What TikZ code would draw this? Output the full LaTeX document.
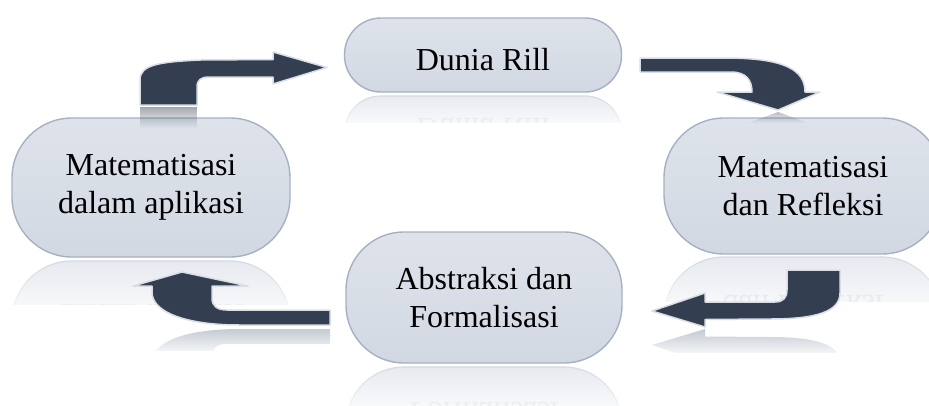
\documentclass[tikz,border=0pt]{standalone}
\usepackage{fontspec}
\setmainfont{Liberation Serif}
\usetikzlibrary{fadings}
\definecolor{arrowcol}{HTML}{333E50}
\definecolor{arrowedge}{HTML}{D9DEE6}
\definecolor{nodefillA}{HTML}{DEE3EB}
\definecolor{nodefillB}{HTML}{D2D8E2}
\definecolor{nodeedge}{HTML}{A5B1C3}
\definecolor{reffill}{HTML}{E6E9EF}
\definecolor{refedge}{HTML}{D3D8E0}
\definecolor{reftext}{HTML}{C4C9D1}
\definecolor{arrref}{HTML}{C2C8D1}
\tikzfading[name=fadeup, top color=transparent!100, bottom color=transparent!0]
\tikzfading[name=fadedown, top color=transparent!0, bottom color=transparent!100]
\tikzset{
  pill/.style={draw=nodeedge, line width=1.4pt, top color=nodefillA, bottom color=nodefillB,
    align=center, font=\fontsize{32}{38.4}\selectfont, inner sep=0pt},
  refl/.style={draw=refedge, line width=1.2pt, fill=reffill, text=reftext,
    align=center, font=\fontsize{32}{38.4}\selectfont, inner sep=0pt},
  lowtext/.style={text height=38pt, text depth=8pt},
  bigarrow/.style={fill=arrowcol, draw=arrowedge, line width=1.5pt, line join=round},
  arrowrefl/.style={fill=arrref, draw=none},
  fadeover/.style={fill=white, draw=none, path fading=fadeup},
}
\newcommand\arrA{(140,105) -- (140,80) .. controls (140,65) and (158,62) .. (200,60) -- (273,59.5) -- (273,52) -- (327,67.5) -- (273,84) -- (273,77) -- (209,77) .. controls (201,77) and (197,80) .. (197,87) -- (197,105) -- cycle}
\newcommand\arrB{(640,58) -- (725,58) .. controls (785,58) and (805,70) .. (805,92) -- (820,92) -- (778,110) -- (717,92) -- (752,92) .. controls (752,80) and (746,72) .. (731,72) -- (640,72) -- cycle}
\newcommand\arrC{(787,270) -- (840,270) -- (840,293) .. controls (840,312) and (815,319) .. (770,319) -- (705,319.5) -- (705,327) -- (652,311) -- (705,293) -- (705,302) -- (775,302) .. controls (783,302) and (787,298) .. (787,290) -- cycle}
\newcommand\arrD{(330,310) -- (330,325) -- (240,325) .. controls (185,325) and (152,312) .. (152,292) -- (152,286) -- (133,286) -- (182,272) -- (248,286) -- (212,286) -- (212,298) .. controls (212,306) and (217,310) .. (227,310) -- cycle}
\begin{document}
\begin{tikzpicture}[x=1pt, y=-1pt]
\useasboundingbox (0,0) rectangle (929,405);
\clip (0,0) rectangle (929,405);

% ---------- reflections of the nodes ----------
\begin{scope}
  \clip (335,93) rectangle (632,122);
  \begin{scope}[shift={(0,188)}, yscale=-1, transform shape]
    \node[refl, lowtext, minimum width=277pt, minimum height=74pt, rounded corners=36.5pt] (rillR) at (483,55) {Dunia Rill};
  \end{scope}
\end{scope}
\fill[fadeover] (335,93) rectangle (632,132);

\begin{scope}
  \clip (5,258) rectangle (300,304);
  \begin{scope}[shift={(0,518)}, yscale=-1, transform shape]
    \node[refl, minimum width=278pt, minimum height=139pt, rounded corners=60pt] (aplR) at (151,187.5) {Matematisasi\\dalam aplikasi};
  \end{scope}
\end{scope}
\fill[fadeover] (5,258) rectangle (300,325);

\begin{scope}
  \clip (655,254) rectangle (929,301);
  \begin{scope}[shift={(0,510)}, yscale=-1, transform shape]
    \node[refl, minimum width=278pt, minimum height=136pt, rounded corners=60pt] (refR) at (803,185) {Matematisasi\\dan Refleksi};
  \end{scope}
\end{scope}
\fill[fadeover] (655,254) rectangle (929,322);

\begin{scope}
  \clip (338,364) rectangle (630,405);
  \begin{scope}[shift={(0,730)}, yscale=-1, transform shape]
    \node[refl, minimum width=276pt, minimum height=131pt, rounded corners=58pt] (absR) at (484,297.5) {Abstraksi dan\\Formalisasi};
  \end{scope}
\end{scope}
\fill[fadeover] (338,364) rectangle (630,420);

% ---------- reflections of the lower arrows ----------
\begin{scope}
  \clip (640,328) rectangle (850,352);
  \begin{scope}[shift={(0,656)}, yscale=-1]
    \fill[arrowrefl] \arrC;
  \end{scope}
\end{scope}
\fill[fadeover] (640,328) rectangle (850,358);

\begin{scope}
  \clip (120,327) rectangle (340,350);
  \begin{scope}[shift={(0,654)}, yscale=-1]
    \fill[arrowrefl] \arrD;
  \end{scope}
\end{scope}
\fill[fadeover] (120,327) rectangle (340,356);

% ---------- nodes ----------
\node[pill, lowtext, minimum width=277pt, minimum height=74pt, rounded corners=36.5pt] (rill) at (483,55) {Dunia Rill};
\node[pill, minimum width=278pt, minimum height=139pt, rounded corners=60pt] (apl) at (151,187.5) {Matematisasi\\dalam aplikasi};
\node[pill, minimum width=278pt, minimum height=136pt, rounded corners=60pt] (ref) at (803,186) {Matematisasi\\dan Refleksi};
\node[pill, minimum width=276pt, minimum height=131pt, rounded corners=58pt] (abs) at (484,297.5) {Abstraksi dan\\Formalisasi};

% ---------- arrows ----------
\filldraw[bigarrow] \arrA;
\filldraw[bigarrow] \arrB;
\filldraw[bigarrow] \arrC;
\filldraw[bigarrow] \arrD;

% ---------- reflections of the upper arrows (over the nodes) ----------
\fill[arrowcol, fill opacity=0.45, path fading=fadedown] (140,107) rectangle (197,128);
\fill[arrowcol, fill opacity=0.35, path fading=fadedown] (778,112) -- (808,123) -- (748,123) -- cycle;
\end{tikzpicture}
\end{document}
